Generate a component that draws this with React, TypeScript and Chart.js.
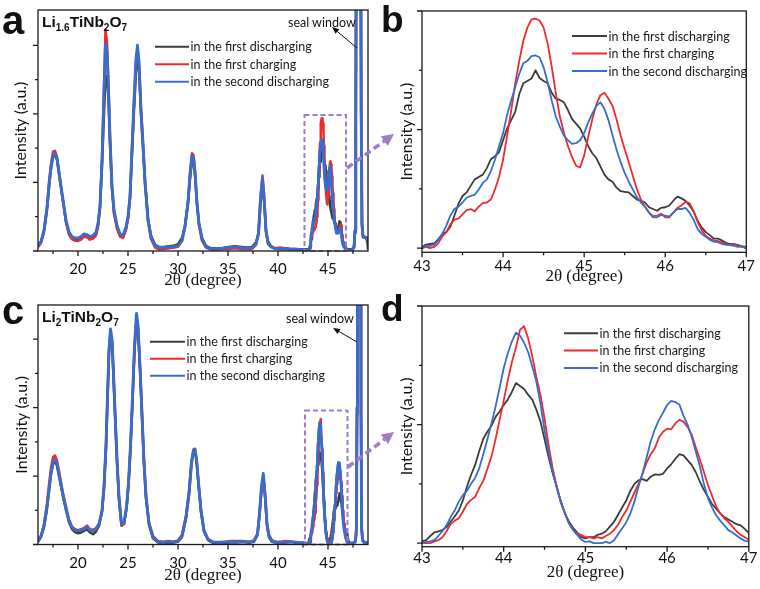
import React, { useEffect, useRef } from 'react';
import { Chart, registerables } from 'chart.js';
Chart.register(...registerables);

const seriesNames = ['in the first discharging', 'in the first charging', 'in the second discharging'];
const seriesColors = ['#3c3c3c', '#ee2a2e', '#386dcb'];

// ---- zoomed range 43-47 (panels b, d; also used inside a, c) ----
const zoomX = [
  43.0, 43.05, 43.1, 43.15, 43.2, 43.25, 43.3, 43.35, 43.4, 43.45,
  43.5, 43.55, 43.6, 43.65, 43.7, 43.75, 43.8, 43.85, 43.9, 43.95,
  44.0, 44.05, 44.1, 44.15, 44.2, 44.25, 44.3, 44.35, 44.4, 44.45,
  44.5, 44.55, 44.6, 44.65, 44.7, 44.75, 44.8, 44.85, 44.9, 44.95,
  45.0, 45.05, 45.1, 45.15, 45.2, 45.25, 45.3, 45.35, 45.4, 45.45,
  45.5, 45.55, 45.6, 45.65, 45.7, 45.75, 45.8, 45.85, 45.9, 45.95,
  46.0, 46.05, 46.1, 46.15, 46.2, 46.25, 46.3, 46.35, 46.4, 46.45,
  46.5, 46.55, 46.6, 46.65, 46.7, 46.75, 46.8, 46.85, 46.9, 46.95,
  47.0,
];
const bBlack = [
  0.02, 0.06, 0.07, 0.08, 0.15, 0.24, 0.27, 0.36, 0.55, 0.75,
  0.88, 0.94, 1.05, 1.16, 1.2, 1.24, 1.35, 1.5, 1.55, 1.62,
  1.82, 2.02, 2.16, 2.3, 2.6, 2.78, 2.82, 2.86, 3.0, 2.87,
  2.82, 2.78, 2.62, 2.52, 2.5, 2.46, 2.33, 2.18, 2.1, 2.02,
  1.88, 1.72, 1.6, 1.52, 1.38, 1.24, 1.16, 1.12, 1.02, 0.96,
  0.95, 0.94, 0.88, 0.82, 0.8, 0.77, 0.69, 0.66, 0.63, 0.68,
  0.69, 0.72, 0.8, 0.87, 0.84, 0.8, 0.72, 0.62, 0.46, 0.35,
  0.27, 0.22, 0.16, 0.16, 0.13, 0.09, 0.07, 0.07, 0.05, 0.03,
  0.02,
];
const bRed = [
  0.0, 0.02, 0.0, 0.02, 0.08, 0.2, 0.27, 0.4, 0.48, 0.5,
  0.57, 0.64, 0.66, 0.62, 0.7, 0.76, 0.77, 0.82, 0.99, 1.2,
  1.49, 1.9, 2.32, 2.78, 3.16, 3.5, 3.72, 3.86, 3.87, 3.84,
  3.72, 3.45, 3.06, 2.62, 2.22, 1.95, 1.72, 1.54, 1.39, 1.36,
  1.56, 1.88, 2.17, 2.42, 2.58, 2.62, 2.52, 2.4, 2.17, 1.9,
  1.67, 1.45, 1.22, 1.0, 0.82, 0.7, 0.6, 0.54, 0.55, 0.58,
  0.52, 0.52, 0.6, 0.68, 0.72, 0.78, 0.76, 0.62, 0.44, 0.3,
  0.21, 0.16, 0.13, 0.12, 0.1, 0.06, 0.06, 0.07, 0.04, 0.02,
  0.0,
];
const bBlue = [
  0.0, 0.03, 0.04, 0.06, 0.13, 0.24, 0.38, 0.55, 0.66, 0.7,
  0.77, 0.85, 0.88, 0.9, 0.99, 1.1, 1.16, 1.3, 1.49, 1.72,
  1.94, 2.25, 2.49, 2.72, 2.94, 3.12, 3.16, 3.24, 3.25, 3.22,
  3.05, 2.8, 2.49, 2.22, 2.05, 1.9, 1.82, 1.76, 1.77, 1.82,
  1.94, 2.12, 2.27, 2.4, 2.46, 2.35, 2.16, 1.9, 1.66, 1.45,
  1.27, 1.12, 0.99, 0.86, 0.77, 0.7, 0.6, 0.52, 0.52, 0.56,
  0.55, 0.53, 0.6, 0.66, 0.66, 0.68, 0.6, 0.48, 0.32, 0.24,
  0.19, 0.14, 0.11, 0.1, 0.07, 0.06, 0.05, 0.04, 0.02, 0.03,
  0.0,
];
const dBlack = [
  0.03, 0.05, 0.12, 0.18, 0.2, 0.22, 0.27, 0.36, 0.45, 0.55,
  0.72, 0.95, 1.15, 1.32, 1.55, 1.76, 1.88, 1.98, 2.13, 2.22,
  2.33, 2.42, 2.55, 2.7, 2.65, 2.6, 2.5, 2.42, 2.25, 2.05,
  1.75, 1.45, 1.18, 0.95, 0.7, 0.5, 0.36, 0.26, 0.18, 0.1,
  0.08, 0.1, 0.1, 0.14, 0.16, 0.2, 0.28, 0.36, 0.48, 0.6,
  0.72, 0.88, 1.0, 1.06, 1.08, 1.05, 1.12, 1.16, 1.15, 1.17,
  1.26, 1.33, 1.42, 1.5, 1.48, 1.4, 1.32, 1.2, 1.04, 0.9,
  0.78, 0.66, 0.58, 0.5, 0.44, 0.4, 0.36, 0.32, 0.3, 0.24,
  0.17,
];
const dRed = [
  0.0, 0.0, 0.0, 0.03, 0.05, 0.1, 0.2, 0.32, 0.38, 0.42,
  0.53, 0.66, 0.73, 0.78, 0.93, 1.05, 1.25, 1.46, 1.75, 2.08,
  2.4, 2.75, 3.05, 3.3, 3.6, 3.66, 3.45, 3.15, 2.8, 2.5,
  2.1, 1.65, 1.26, 0.95, 0.68, 0.5, 0.33, 0.22, 0.16, 0.14,
  0.1, 0.1, 0.08, 0.1, 0.08, 0.12, 0.16, 0.22, 0.31, 0.44,
  0.55, 0.7, 0.85, 1.0, 1.17, 1.36, 1.5, 1.6, 1.78, 1.88,
  1.93, 1.92, 2.02, 2.08, 2.05, 1.96, 1.83, 1.62, 1.42, 1.2,
  0.98, 0.8, 0.62, 0.5, 0.42, 0.36, 0.28, 0.2, 0.14, 0.1,
  0.06,
];
const dBlue = [
  0.0, 0.02, 0.03, 0.05, 0.12, 0.2, 0.3, 0.44, 0.55, 0.7,
  0.81, 0.88, 1.0, 1.1, 1.26, 1.5, 1.75, 2.02, 2.3, 2.62,
  2.95, 3.2, 3.4, 3.55, 3.5, 3.38, 3.22, 2.98, 2.72, 2.35,
  1.9, 1.52, 1.2, 0.92, 0.7, 0.5, 0.33, 0.22, 0.14, 0.06,
  0.02, 0.03, 0.0, 0.0, 0.0, 0.02, 0.0, 0.05, 0.15, 0.25,
  0.35, 0.5, 0.7, 0.95, 1.18, 1.45, 1.72, 1.92, 2.08, 2.2,
  2.33, 2.4, 2.38, 2.34, 2.15, 2.0, 1.8, 1.55, 1.3, 1.0,
  0.76, 0.6, 0.47, 0.38, 0.3, 0.22, 0.18, 0.13, 0.08, 0.04,
  0.03,
];

// ---- panel a, wide range outside the zoom window ----
const aLowX = [
  16.0, 16.3, 16.6, 16.9, 17.1, 17.3, 17.5, 17.7, 17.9, 18.1,
  18.3, 18.5, 18.8, 19.1, 19.4, 19.7, 20.0, 20.3, 20.6, 20.9,
  21.2, 21.5, 21.8, 22.0, 22.2, 22.4, 22.6, 22.75, 22.9, 23.05,
  23.2, 23.4, 23.6, 23.9, 24.2, 24.5, 24.8, 25.0, 25.2, 25.4,
  25.6, 25.8, 25.95, 26.1, 26.3, 26.5, 26.7, 27.0, 27.3, 27.7,
  28.1, 28.6, 29.1, 29.6, 30.0, 30.4, 30.7, 31.0, 31.2, 31.4,
  31.55, 31.7, 31.9, 32.1, 32.4, 32.8, 33.3, 33.9, 34.5, 35.1,
  35.7, 36.3, 36.9, 37.4, 37.8, 38.05, 38.25, 38.45, 38.6, 38.8,
  39.0, 39.3, 39.7, 40.2, 40.7, 41.2, 41.7, 42.2, 42.6, 42.9,
];
const aLowBlack = [
  0.12, 0.25, 0.55, 1.2, 1.85, 2.4, 2.75, 2.8, 2.65, 2.25,
  1.85, 1.45, 0.85, 0.5, 0.35, 0.32, 0.32, 0.36, 0.45, 0.42,
  0.36, 0.38, 0.5, 0.75, 1.3, 2.5, 4.0, 5.1, 5.1, 4.4,
  3.1, 1.8, 1.1, 0.7, 0.45, 0.42, 0.65, 0.95, 1.55, 2.8,
  4.1, 5.2, 5.55, 5.3, 4.0, 3.0, 2.0, 0.95, 0.45, 0.18,
  0.12, 0.12, 0.14, 0.15, 0.2, 0.38, 0.75, 1.4, 2.1, 2.65,
  2.62, 2.2, 1.35, 0.8, 0.38, 0.15, 0.08, 0.07, 0.09, 0.12,
  0.14, 0.12, 0.1, 0.12, 0.25, 0.5, 1.35, 1.95, 1.5, 0.6,
  0.28, 0.14, 0.08, 0.07, 0.07, 0.06, 0.06, 0.05, 0.05, 0.05,
];
const aLowRed = [
  0.12, 0.25, 0.6, 1.3, 2.0, 2.55, 2.9, 2.92, 2.75, 2.3,
  1.85, 1.45, 0.85, 0.48, 0.35, 0.3, 0.3, 0.33, 0.42, 0.4,
  0.33, 0.36, 0.45, 0.7, 1.25, 2.7, 4.8, 6.45, 6.1, 4.8,
  3.3, 1.85, 1.1, 0.65, 0.42, 0.38, 0.62, 0.95, 1.55, 2.95,
  4.3, 5.5, 5.9, 5.45, 4.15, 3.2, 2.1, 0.9, 0.35, 0.1,
  0.05, 0.06, 0.08, 0.1, 0.12, 0.3, 0.72, 1.45, 2.3, 2.85,
  2.8, 2.35, 1.4, 0.75, 0.3, 0.1, 0.04, 0.04, 0.05, 0.06,
  0.08, 0.06, 0.05, 0.06, 0.18, 0.55, 1.6, 2.2, 1.65, 0.55,
  0.2, 0.12, 0.08, 0.1, 0.08, 0.06, 0.05, 0.04, 0.03, 0.02,
];
const aLowBlue = [
  0.15, 0.28, 0.6, 1.25, 1.9, 2.45, 2.8, 2.85, 2.7, 2.3,
  1.9, 1.5, 0.9, 0.55, 0.42, 0.38, 0.38, 0.42, 0.5, 0.48,
  0.42, 0.45, 0.55, 0.8, 1.3, 2.6, 4.6, 6.05, 5.85, 4.7,
  3.3, 1.9, 1.2, 0.75, 0.5, 0.45, 0.7, 1.0, 1.6, 3.0,
  4.4, 5.6, 6.0, 5.5, 4.1, 3.1, 2.0, 0.9, 0.4, 0.15,
  0.1, 0.1, 0.12, 0.12, 0.15, 0.3, 0.7, 1.4, 2.2, 2.78,
  2.72, 2.3, 1.4, 0.8, 0.35, 0.12, 0.07, 0.06, 0.08, 0.1,
  0.12, 0.1, 0.08, 0.1, 0.2, 0.5, 1.5, 2.12, 1.6, 0.6,
  0.25, 0.12, 0.07, 0.06, 0.06, 0.05, 0.05, 0.04, 0.04, 0.03,
];
const aHighX = [47.1, 47.4, 47.6, 47.7, 47.78, 47.85, 48.25, 48.32, 48.4, 48.5, 48.6, 48.8, 48.95, 49.0];
const aHighBlack = [0.05, 0.05, 0.12, 0.55, 3.8, 12, 12, 3.8, 0.7, 0.4, 0.4, 0.38, 0.25, 0.05];
const aHighRed = [0.02, 0.03, 0.1, 0.6, 4, 12, 12, 4, 0.8, 0.45, 0.42, 0.4, 0.35, 0.3];
const aHighBlue = [0.02, 0.03, 0.1, 0.6, 4, 12, 12, 4, 0.8, 0.45, 0.42, 0.4, 0.35, 0.3];

// ---- panel c, wide range outside the zoom window ----
const cLowX = [
  16.0, 16.3, 16.6, 16.9, 17.1, 17.3, 17.5, 17.7, 17.9, 18.1,
  18.3, 18.5, 18.8, 19.1, 19.4, 19.7, 20.0, 20.3, 20.6, 20.9,
  21.2, 21.5, 21.8, 22.1, 22.4, 22.6, 22.8, 22.95, 23.1, 23.25,
  23.4, 23.55, 23.7, 23.9, 24.1, 24.35, 24.6, 24.85, 25.05, 25.25,
  25.45, 25.65, 25.85, 26.0, 26.2, 26.4, 26.6, 26.8, 27.1, 27.5,
  28.0, 28.5, 29.0, 29.5, 30.0, 30.4, 30.8, 31.1, 31.35, 31.55,
  31.7, 31.85, 32.05, 32.3, 32.6, 33.0, 33.5, 34.1, 34.7, 35.3,
  35.9, 36.5, 37.1, 37.6, 37.95, 38.15, 38.35, 38.53, 38.7, 38.9,
  39.1, 39.4, 39.8, 40.3, 40.8, 41.3, 41.8, 42.3, 42.6, 42.9,
];
const cLowBlack = [
  0.08, 0.22, 0.5, 1.05, 1.55, 2.05, 2.35, 2.42, 2.3, 2.0,
  1.7, 1.4, 1.0, 0.65, 0.45, 0.36, 0.33, 0.35, 0.4, 0.45,
  0.35, 0.3, 0.38, 0.55, 0.95, 1.7, 2.9, 4.3, 5.65, 6.2,
  5.9, 4.9, 3.8, 2.4, 1.3, 0.55, 0.6, 1.05, 1.75, 2.8,
  4.2, 5.7, 6.6, 6.3, 5.1, 3.7, 2.35, 1.35, 0.6, 0.18,
  0.06, 0.05, 0.06, 0.05, 0.08, 0.22, 0.75, 1.45, 2.35, 2.7,
  2.72, 2.45, 1.75, 0.95, 0.38, 0.13, 0.05, 0.04, 0.05, 0.06,
  0.06, 0.07, 0.05, 0.08, 0.28, 0.85, 1.6, 1.98, 1.45, 0.55,
  0.22, 0.08, 0.05, 0.05, 0.06, 0.08, 0.05, 0.04, 0.04, 0.02,
];
const cLowRed = [
  0.1, 0.25, 0.6, 1.2, 1.75, 2.25, 2.55, 2.6, 2.45, 2.15,
  1.82, 1.5, 1.1, 0.72, 0.52, 0.45, 0.42, 0.45, 0.48, 0.55,
  0.45, 0.43, 0.48, 0.6, 0.95, 1.6, 2.8, 4.2, 5.6, 6.2,
  5.95, 5.0, 3.9, 2.5, 1.35, 0.55, 0.6, 1.05, 1.75, 2.85,
  4.2, 5.7, 6.6, 6.35, 5.2, 3.85, 2.45, 1.45, 0.65, 0.25,
  0.1, 0.08, 0.1, 0.08, 0.12, 0.28, 0.85, 1.55, 2.45, 2.78,
  2.8, 2.5, 1.8, 1.0, 0.42, 0.16, 0.08, 0.07, 0.08, 0.1,
  0.1, 0.1, 0.08, 0.12, 0.32, 0.9, 1.65, 2.0, 1.45, 0.6,
  0.28, 0.12, 0.08, 0.08, 0.1, 0.08, 0.07, 0.06, 0.05, 0.03,
];
const cLowBlue = [
  0.1, 0.25, 0.55, 1.1, 1.6, 2.1, 2.4, 2.48, 2.35, 2.05,
  1.75, 1.45, 1.05, 0.7, 0.5, 0.42, 0.4, 0.42, 0.45, 0.52,
  0.42, 0.4, 0.45, 0.6, 1.0, 1.7, 2.9, 4.3, 5.7, 6.3,
  6.0, 5.0, 3.9, 2.5, 1.4, 0.6, 0.65, 1.1, 1.8, 2.9,
  4.3, 5.8, 6.75, 6.4, 5.2, 3.8, 2.4, 1.4, 0.6, 0.2,
  0.08, 0.06, 0.08, 0.07, 0.1, 0.25, 0.8, 1.5, 2.4, 2.75,
  2.78, 2.5, 1.8, 1.0, 0.4, 0.15, 0.07, 0.06, 0.07, 0.08,
  0.08, 0.09, 0.07, 0.1, 0.3, 0.9, 1.7, 2.08, 1.5, 0.6,
  0.25, 0.1, 0.06, 0.06, 0.07, 0.08, 0.06, 0.05, 0.05, 0.03,
];
const cHighX = [47.1, 47.5, 47.75, 47.85, 47.9, 47.95, 48.25, 48.3, 48.36, 48.45, 48.6, 48.8, 49.0];
const cHighBlack = [0.05, 0.05, 0.1, 0.5, 3.8, 12, 12, 3.8, 0.5, 0.15, 0.08, 0.06, 0.05];
const cHighRed = [0.03, 0.03, 0.08, 0.5, 4, 12, 12, 4, 0.5, 0.12, 0.06, 0.05, 0.04];
const cHighBlue = [0.03, 0.03, 0.08, 0.5, 4, 12, 12, 4, 0.5, 0.12, 0.06, 0.05, 0.04];

// ---- ticks ----
const wideTicks = [20, 25, 30, 35, 40, 45];
const wideTickLabels = ['20', '25', '30', '35', '40', '45'];
const wideMinor = [17.5, 22.5, 27.5, 32.5, 37.5, 42.5, 47.5];
const zoomTicks = [43, 44, 45, 46, 47];
const zoomTickLabels = ['43', '44', '45', '46', '47'];
const zoomMinor = [43.5, 44.5, 45.5, 46.5];

const SANS = "Lato, 'Noto Sans', sans-serif";
const SERIF = "'Liberation Serif', 'Times New Roman', serif";
const PURPLE = '#a07cc8';

type Cfg = {
  key: string; left: number; top: number; w: number; h: number;
  yAxisW: number; padTop: number; padRight: number; xAxisH: number;
  xMin: number; xMax: number; yMin: number; yMax: number;
  xTicks: number[]; xLabels: string[]; xMinor: number[];
  yMajor: number[]; yMinor: number[];
  x: number[]; series: number[][]; lineW: number[];
  tickPad: number; xTitlePad: number; yTitlePad: number;
  legend: { x: number; y: number; len: number; row: number };
  box?: number[];
};

const panels: Cfg[] = [
  {
    key: 'a', left: 0, top: 0, w: 380, h: 295, yAxisW: 38, padTop: 10, padRight: 12, xAxisH: 44,
    xMin: 16, xMax: 49, yMin: 0, yMax: 7.03,
    xTicks: wideTicks, xLabels: wideTickLabels, xMinor: wideMinor, yMajor: [0, 2, 4, 6], yMinor: [1, 3, 5],
    x: [...aLowX, ...zoomX, ...aHighX],
    series: [[...aLowBlack, ...bBlack, ...aHighBlack], [...aLowRed, ...bRed, ...aHighRed], [...aLowBlue, ...bBlue, ...aHighBlue]],
    lineW: [2.5, 2.5, 2.9], tickPad: 9, xTitlePad: 3.8, yTitlePad: 10.8,
    legend: { x: 117, y: 36.7, len: 34, row: 17.5 }, box: [42.65, 46.8, 0, 3.97],
  },
  {
    key: 'b', left: 380, top: 0, w: 380, h: 295, yAxisW: 42, padTop: 11, padRight: 9, xAxisH: 42.7,
    xMin: 43, xMax: 47, yMin: -0.07, yMax: 4.0,
    xTicks: zoomTicks, xLabels: zoomTickLabels, xMinor: zoomMinor, yMajor: [0, 2, 4], yMinor: [1, 3],
    x: zoomX, series: [bBlack, bRed, bBlue],
    lineW: [1.8, 1.8, 1.8], tickPad: 5, xTitlePad: 8.5, yTitlePad: 17.2,
    legend: { x: 150, y: 25, len: 35, row: 17.5 },
  },
  {
    key: 'c', left: 0, top: 295, w: 380, h: 294, yAxisW: 38, padTop: 10, padRight: 12, xAxisH: 44.5,
    xMin: 16, xMax: 49, yMin: 0, yMax: 7.0,
    xTicks: wideTicks, xLabels: wideTickLabels, xMinor: wideMinor, yMajor: [0, 2, 4, 6], yMinor: [1, 3, 5],
    x: [...cLowX, ...zoomX, ...cHighX],
    series: [[...cLowBlack, ...dBlack, ...cHighBlack], [...cLowRed, ...dRed, ...cHighRed], [...cLowBlue, ...dBlue, ...cHighBlue]],
    lineW: [2.5, 2.5, 2.9], tickPad: 9.5, xTitlePad: 3.3, yTitlePad: 12.2,
    legend: { x: 112, y: 36.7, len: 35, row: 17 }, box: [42.7, 46.95, 0, 3.92],
  },
  {
    key: 'd', left: 380, top: 295, w: 380, h: 294, yAxisW: 42, padTop: 11, padRight: 9, xAxisH: 42.3,
    xMin: 43, xMax: 47, yMin: -0.06, yMax: 4.0,
    xTicks: zoomTicks, xLabels: zoomTickLabels, xMinor: zoomMinor, yMajor: [0, 2, 4], yMinor: [1, 3],
    x: zoomX, series: [dBlack, dRed, dBlue],
    lineW: [1.8, 1.8, 1.8], tickPad: 2.5, xTitlePad: 6.5, yTitlePad: 17.2,
    legend: { x: 142, y: 27.3, len: 34, row: 17.3 },
  },
];

function makeDecor(cfg: Cfg) {
  return {
    id: 'decor',
    afterDatasetsDraw(chart: any) {
      if (!cfg.box) return;
      const { ctx, scales } = chart;
      const xs = scales.x, ys = scales.y;
      const x1 = xs.getPixelForValue(cfg.box[0]);
      const x2 = xs.getPixelForValue(cfg.box[1]);
      const y1 = ys.getPixelForValue(cfg.box[2]);
      const y2 = ys.getPixelForValue(cfg.box[3]);
      ctx.save();
      ctx.strokeStyle = PURPLE;
      ctx.lineWidth = 2;
      ctx.setLineDash([5, 3]);
      ctx.strokeRect(x1, y2, x2 - x1, y1 - y2);
      ctx.restore();
    },
    afterDraw(chart: any) {
      const { ctx, chartArea: a, scales } = chart;
      const xs = scales.x, ys = scales.y;
      ctx.save();
      ctx.strokeStyle = '#1a1a1a';
      ctx.lineWidth = 1.3;
      ctx.strokeRect(a.left, a.top, a.right - a.left, a.bottom - a.top);
      ctx.beginPath();
      cfg.xTicks.forEach((v) => { const p = xs.getPixelForValue(v); ctx.moveTo(p, a.bottom); ctx.lineTo(p, a.bottom + 5); });
      cfg.xMinor.forEach((v) => { const p = xs.getPixelForValue(v); ctx.moveTo(p, a.bottom); ctx.lineTo(p, a.bottom + 3); });
      cfg.yMajor.forEach((v) => { const p = ys.getPixelForValue(v); ctx.moveTo(a.left, p); ctx.lineTo(a.left - 5, p); });
      cfg.yMinor.forEach((v) => { const p = ys.getPixelForValue(v); ctx.moveTo(a.left, p); ctx.lineTo(a.left - 3, p); });
      ctx.stroke();
      // legend
      const L = cfg.legend;
      ctx.font = `12.5px ${SANS}`;
      ctx.textBaseline = 'middle';
      ctx.textAlign = 'left';
      chart.data.datasets.forEach((ds: any, i: number) => {
        const yy = a.top + L.y + i * L.row;
        const x0 = a.left + L.x;
        ctx.strokeStyle = ds.borderColor;
        ctx.lineWidth = 2;
        ctx.beginPath();
        ctx.moveTo(x0, yy);
        ctx.lineTo(x0 + L.len, yy);
        ctx.stroke();
        ctx.fillStyle = '#1a1a1a';
        ctx.fillText(ds.label, x0 + L.len + 1.5, yy + 0.5);
      });
      ctx.restore();
    },
  };
}

function Panel({ cfg }: { cfg: Cfg }) {
  const ref = useRef<HTMLCanvasElement>(null);
  useEffect(() => {
    const canvas = ref.current!;
    const chart = new Chart(canvas, {
      type: 'line',
      data: {
        datasets: cfg.series.map((ys, i) => ({
          label: seriesNames[i],
          data: cfg.x.map((x, j) => ({ x, y: ys[j] })),
          borderColor: seriesColors[i],
          backgroundColor: seriesColors[i],
          borderWidth: cfg.lineW[i],
          pointRadius: 0,
          tension: 0,
          fill: false,
          borderJoinStyle: 'round',
          order: 2 - i,
        })),
      },
      options: {
        responsive: false,
        animation: false,
        devicePixelRatio: 1,
        layout: { padding: { top: cfg.padTop, right: cfg.padRight, left: 0, bottom: 0 } },
        plugins: { legend: { display: false }, tooltip: { enabled: false } },
        scales: {
          x: {
            type: 'linear',
            min: cfg.xMin,
            max: cfg.xMax,
            afterBuildTicks: (s: any) => { s.ticks = cfg.xTicks.map((v) => ({ value: v })); },
            afterFit: (s: any) => { s.height = cfg.xAxisH; },
            ticks: {
              autoSkip: false,
              maxRotation: 0,
              padding: cfg.tickPad,
              color: '#111',
              font: { family: SANS, size: 15 },
              callback: (_v: any, i: number) => cfg.xLabels[i],
            },
            grid: { display: false, drawTicks: false },
            border: { display: false },
            title: {
              display: true,
              text: '2θ (degree)',
              color: '#111',
              font: { family: SERIF, size: 17 },
              padding: { top: 0, bottom: cfg.xTitlePad },
            },
          },
          y: {
            type: 'linear',
            min: cfg.yMin,
            max: cfg.yMax,
            afterFit: (s: any) => { s.width = cfg.yAxisW; },
            ticks: { display: false },
            grid: { display: false, drawTicks: false },
            border: { display: false },
            title: {
              display: true,
              text: 'Intensity (a.u.)',
              color: '#111',
              font: { family: SANS, size: 16 },
              padding: { top: cfg.yTitlePad, bottom: 0 },
            },
          },
        },
      },
      plugins: [makeDecor(cfg)],
    } as any);
    return () => chart.destroy();
  }, []);
  return (
    <canvas
      ref={ref}
      width={cfg.w}
      height={cfg.h}
      style={{ position: 'absolute', left: cfg.left, top: cfg.top, width: cfg.w, height: cfg.h }}
    />
  );
}

function arrowHead(tx: number, ty: number, fx: number, fy: number, len: number, half: number) {
  const dx = tx - fx, dy = ty - fy;
  const d = Math.hypot(dx, dy);
  const ux = dx / d, uy = dy / d;
  const bx = tx - ux * len, by = ty - uy * len;
  const nx = -uy * half, ny = ux * half;
  return { pts: `${tx},${ty} ${bx + nx},${by + ny} ${bx - nx},${by - ny}`, bx, by };
}

export default function App() {
  const ab = arrowHead(394, 134, 347, 168, 12, 6);
  const cd = arrowHead(394, 432, 348, 467, 12, 6);
  const sa = arrowHead(332, 27, 357, 48, 7, 3);
  const sc = arrowHead(333, 328, 357, 342, 7, 3);
  const sub = { fontSize: 10 };
  return (
    <div style={{ position: 'absolute', left: 0, top: 0, width: 760, height: 589, background: '#fff', overflow: 'hidden' }}>
      {panels.map((p) => <Panel key={p.key} cfg={p} />)}
      <svg width={760} height={589} style={{ position: 'absolute', left: 0, top: 0, pointerEvents: 'none' }}>
        <g fontFamily="'Liberation Sans', Arial, sans-serif" fontWeight="bold" fill="#111">
          <text x={2} y={34} fontSize={40}>a</text>
          <text x={381} y={32} fontSize={37}>b</text>
          <text x={2} y={324} fontSize={40}>c</text>
          <text x={381} y={321} fontSize={37}>d</text>
          <text x={42} y={27} fontSize={15.5}>Li<tspan {...sub} dy={4}>1.6</tspan><tspan dy={-4}>TiNb</tspan><tspan {...sub} dy={4}>2</tspan><tspan dy={-4}>O</tspan><tspan {...sub} dy={4}>7</tspan></text>
          <text x={42} y={321.5} fontSize={15.5}>Li<tspan {...sub} dy={4}>2</tspan><tspan dy={-4}>TiNb</tspan><tspan {...sub} dy={4}>2</tspan><tspan dy={-4}>O</tspan><tspan {...sub} dy={4}>7</tspan></text>
        </g>
        <g fontFamily={SANS} fontSize={12.5} fill="#111">
          <text x={288} y={26.5}>seal window</text>
          <text x={286} y={323}>seal window</text>
        </g>
        <line x1={357} y1={48} x2={sa.bx} y2={sa.by} stroke="#111" strokeWidth={1} />
        <polygon points={sa.pts} fill="#111" />
        <line x1={357} y1={342} x2={sc.bx} y2={sc.by} stroke="#111" strokeWidth={1} />
        <polygon points={sc.pts} fill="#111" />
        <line x1={347} y1={168} x2={ab.bx} y2={ab.by} stroke={PURPLE} strokeWidth={3.5} strokeDasharray="7 4" />
        <polygon points={ab.pts} fill={PURPLE} />
        <line x1={348} y1={467} x2={cd.bx} y2={cd.by} stroke={PURPLE} strokeWidth={3.5} strokeDasharray="7 4" />
        <polygon points={cd.pts} fill={PURPLE} />
      </svg>
    </div>
  );
}
